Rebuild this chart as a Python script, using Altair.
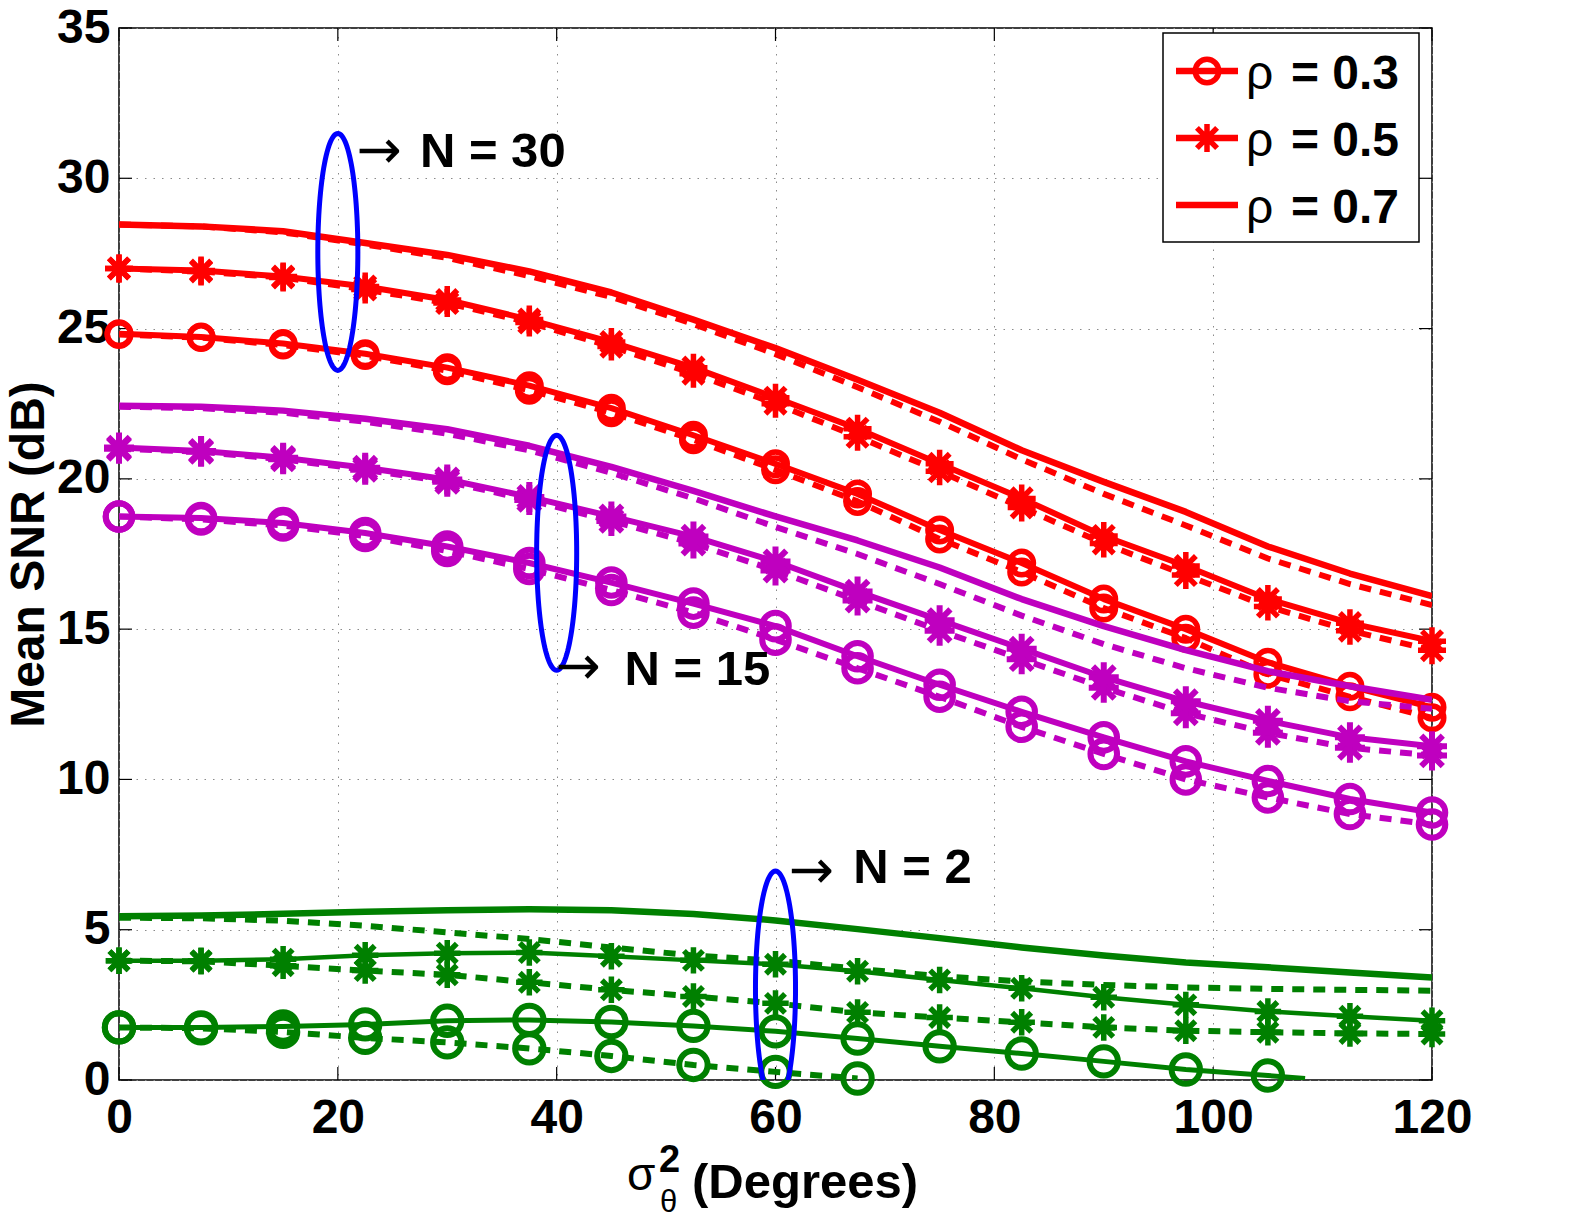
import altair as alt
import pandas as pd
import numpy as np

# ---------------- data ----------------
X = [0, 7.5, 15, 22.5, 30, 37.5, 45, 52.5, 60, 67.5, 75, 82.5, 90, 97.5, 105, 112.5, 120]

# N = 30 (red)
n30_r3 = [24.83, 24.72, 24.5, 24.16, 23.7, 23.1, 22.35, 21.45, 20.5, 19.5, 18.3, 17.2, 16.0, 15.0, 13.9, 13.1, 12.4]
n30_r3_d = [24.8, 24.7, 24.45, 24.1, 23.6, 22.95, 22.2, 21.3, 20.3, 19.25, 18.0, 16.9, 15.7, 14.7, 13.5, 12.75, 12.05]
n30_r5 = [27.0, 26.93, 26.73, 26.4, 25.95, 25.3, 24.55, 23.7, 22.7, 21.67, 20.5, 19.35, 18.1, 17.1, 16.0, 15.2, 14.6]
n30_r5_d = [27.0, 26.9, 26.7, 26.3, 25.85, 25.2, 24.4, 23.5, 22.5, 21.4, 20.25, 19.05, 17.85, 16.8, 15.75, 14.95, 14.3]
n30_r7 = [28.46, 28.4, 28.24, 27.85, 27.45, 26.9, 26.2, 25.3, 24.35, 23.3, 22.2, 20.95, 19.9, 18.9, 17.75, 16.85, 16.1]
n30_r7_d = [28.46, 28.4, 28.2, 27.8, 27.35, 26.75, 26.05, 25.15, 24.15, 23.05, 21.9, 20.65, 19.5, 18.45, 17.35, 16.5, 15.8]

# N = 15 (magenta)
n15_r3 = [18.75, 18.7, 18.53, 18.2, 17.75, 17.2, 16.55, 15.85, 15.1, 14.1, 13.15, 12.25, 11.4, 10.6, 9.95, 9.35, 8.9]
n15_r3_d = [18.75, 18.65, 18.45, 18.1, 17.6, 17.0, 16.3, 15.55, 14.65, 13.7, 12.75, 11.75, 10.85, 10.0, 9.4, 8.85, 8.5]
n15_r5 = [21.04, 20.93, 20.7, 20.37, 19.98, 19.4, 18.75, 18.08, 17.25, 16.25, 15.3, 14.35, 13.4, 12.6, 11.95, 11.4, 11.1]
n15_r5_d = [21.0, 20.9, 20.65, 20.3, 19.9, 19.3, 18.6, 17.85, 16.95, 15.95, 14.95, 14.0, 13.05, 12.2, 11.55, 11.05, 10.8]
n15_r7 = [22.43, 22.4, 22.27, 22.0, 21.65, 21.1, 20.4, 19.6, 18.75, 17.95, 17.05, 16.0, 15.1, 14.3, 13.6, 13.1, 12.65]
n15_r7_d = [22.4, 22.35, 22.2, 21.9, 21.5, 20.95, 20.2, 19.35, 18.4, 17.5, 16.5, 15.45, 14.5, 13.7, 13.05, 12.6, 12.35]

# N = 2 (green)
n2_r3_x = [0, 7.5, 15, 22.5, 30, 37.5, 45, 52.5, 60, 67.5, 75, 82.5, 90, 97.5, 105, 108.4]
n2_r3 = [1.75, 1.75, 1.78, 1.85, 1.97, 2.0, 1.93, 1.8, 1.62, 1.38, 1.12, 0.88, 0.62, 0.35, 0.15, 0.05]
n2_r3_mk = [1] * 15 + [0]
n2_r3_d_x = [0, 7.5, 15, 22.5, 30, 37.5, 45, 52.5, 60, 67.5]
n2_r3_d = [1.75, 1.72, 1.6, 1.4, 1.25, 1.05, 0.8, 0.5, 0.27, 0.05]
n2_r5 = [3.97, 3.97, 4.02, 4.15, 4.22, 4.24, 4.12, 3.98, 3.85, 3.62, 3.33, 3.05, 2.75, 2.5, 2.28, 2.12, 1.97]
n2_r5_d = [3.97, 3.95, 3.8, 3.64, 3.5, 3.25, 3.0, 2.78, 2.55, 2.25, 2.08, 1.92, 1.75, 1.64, 1.59, 1.55, 1.53]
n2_r7 = [5.45, 5.47, 5.53, 5.6, 5.65, 5.68, 5.65, 5.52, 5.31, 5.02, 4.72, 4.41, 4.14, 3.91, 3.75, 3.58, 3.41]
n2_r7_d = [5.4, 5.38, 5.3, 5.13, 4.91, 4.69, 4.41, 4.14, 3.97, 3.7, 3.45, 3.28, 3.16, 3.08, 3.03, 3.0, 2.97]

# Group annotations (ellipse centre x, centre y, semi-axis x, semi-axis y)
ell_names = ["N30", "N15", "N2"]
ell_cx = [20, 40, 60]
ell_cy = [27.55, 17.54, 3.05]
ell_ax = [1.83, 1.83, 1.83]
ell_ay = [3.94, 3.91, 3.9]

ann_arrow_x = [21.7, 39.9, 61.2]
ann_arrow_y = [30.88, 13.71, 6.93]
ann_text_x = [27.5, 46.2, 67.1]
ann_text_y = [30.38, 13.14, 6.56]
ann_text = ["N = 30", "N = 15", "N = 2"]

legend_labels = ["= 0.3", "= 0.5", "= 0.7"]
legend_markers = ["circle", "star", "none"]

x_ticks = [0, 20, 40, 60, 80, 100, 120]
y_ticks = [0, 5, 10, 15, 20, 25, 30, 35]

# ---------------- styling ----------------
W, H = 1313, 1052
RED, MAG, GRN, BLUE = "#ff0000", "#bf00bf", "#008000", "#0000ff"
STAR = "M-1,0L1,0M0,-1L0,1M-0.72,-0.72L0.72,0.72M-0.72,0.72L0.72,-0.72"
FONT = "Liberation Sans"
DASH = [12, 9]

xs = alt.Scale(domain=[0, 120], nice=False, zero=False)
ys = alt.Scale(domain=[0, 35], nice=False, zero=False)

x_axis = alt.Axis(values=x_ticks, grid=True, gridDash=[1.5, 7], gridColor="#8a8a8a", gridWidth=1,
                  ticks=False, domain=False, labelFont=FONT, labelFontSize=48, labelFontWeight="bold",
                  labelColor="black", labelPadding=14, labelFlush=False, labelOverlap=False, title=None)
y_axis = alt.Axis(values=y_ticks, grid=True, gridDash=[1.5, 7], gridColor="#8a8a8a", gridWidth=1,
                  ticks=False, domain=False, labelFont=FONT, labelFontSize=48, labelFontWeight="bold",
                  labelColor="black", labelPadding=9, labelFlush=False, labelOverlap=False,
                  title="Mean SNR (dB)", titleFont=FONT, titleFontSize=48, titleFontWeight="bold",
                  titleColor="black", titleAngle=270, titleAlign="center", titleBaseline="alphabetic",
                  titleX=-76, titleY=526)


def ex(field):
    return alt.X(field, scale=xs, axis=x_axis)


def ey(field):
    return alt.Y(field, scale=ys, axis=y_axis)


# (x list, y list, marker flags, colour, dashed, marker, line width, marker size, marker stroke)
series = [
    (X, n30_r7_d, None, RED, True, None, 6, 0, 0),
    (X, n30_r7, None, RED, False, None, 6.5, 0, 0),
    (X, n30_r5_d, None, RED, True, "star", 6, 784, 5.5),
    (X, n30_r5, None, RED, False, "star", 6, 784, 5.5),
    (X, n30_r3_d, None, RED, True, "circle", 6, 552, 5.5),
    (X, n30_r3, None, RED, False, "circle", 6, 552, 5.5),
    (X, n15_r7_d, None, MAG, True, None, 6, 0, 0),
    (X, n15_r7, None, MAG, False, None, 6.5, 0, 0),
    (X, n15_r5_d, None, MAG, True, "star", 6, 900, 6),
    (X, n15_r5, None, MAG, False, "star", 6, 900, 6),
    (X, n15_r3_d, None, MAG, True, "circle", 6, 707, 6),
    (X, n15_r3, None, MAG, False, "circle", 6, 707, 6),
    (X, n2_r7_d, None, GRN, True, None, 6, 0, 0),
    (X, n2_r7, None, GRN, False, None, 6.5, 0, 0),
    (X, n2_r5_d, None, GRN, True, "star", 6, 700, 5.5),
    (X, n2_r5, None, GRN, False, "star", 4.5, 700, 5.5),
    (n2_r3_d_x, n2_r3_d, None, GRN, True, "circle", 6, 804, 6),
    (n2_r3_x, n2_r3, n2_r3_mk, GRN, False, "circle", 5, 804, 6),
]

layers = []

# inside ticks
xt = pd.DataFrame({"x": x_ticks})
yt = pd.DataFrame({"y": y_ticks})
for y0, y1 in [(H, H - 13), (0, 13)]:
    layers.append(alt.Chart(xt).mark_rule(color="black", strokeWidth=1.2).encode(
        x=ex("x:Q"), y=alt.value(y0), y2=alt.value(y1)))
for x0, x1 in [(0, 13), (W, W - 13)]:
    layers.append(alt.Chart(yt).mark_rule(color="black", strokeWidth=1.2).encode(
        y=ey("y:Q"), x=alt.value(x0), x2=alt.value(x1)))

# series lines and markers
for xv, yv, mk, col, dashed, marker, lw, msize, mstroke in series:
    df = pd.DataFrame({"x": xv, "y": yv})
    kw = dict(color=col, strokeWidth=lw, strokeJoin="round", clip=True)
    if dashed:
        kw["strokeDash"] = DASH
    layers.append(alt.Chart(df).mark_line(**kw).encode(
        x=ex("x:Q"), y=ey("y:Q"), order=alt.Order("x:Q")))
    if marker:
        dm = df.copy()
        if mk is not None:
            dm = dm[[bool(m) for m in mk]]
        shape = "circle" if marker == "circle" else STAR
        layers.append(alt.Chart(dm).mark_point(shape=shape, filled=False, size=msize,
                                               strokeWidth=mstroke, color=col, opacity=1).encode(
            x=ex("x:Q"), y=ey("y:Q")))

# ellipses
rows = []
theta = np.linspace(0, 2 * np.pi, 121)
for name, cx, cy, ax_, ay_ in zip(ell_names, ell_cx, ell_cy, ell_ax, ell_ay):
    for i, t in enumerate(theta):
        rows.append({"e": name, "i": i, "x": cx + ax_ * np.cos(t), "y": cy + ay_ * np.sin(t)})
ell_df = pd.DataFrame(rows)
layers.append(alt.Chart(ell_df).mark_line(color=BLUE, strokeWidth=5, clip=True).encode(
    x=ex("x:Q"), y=ey("y:Q"), detail="e:N", order=alt.Order("i:Q")))

# annotation arrows and labels
arr_df = pd.DataFrame({"x": ann_arrow_x, "y": ann_arrow_y})
layers.append(alt.Chart(arr_df).mark_text(text="\u2192", font="DejaVu Sans", fontSize=54,
                                          fontWeight="normal", align="left",
                                          baseline="middle", color="black").encode(
    x=ex("x:Q"), y=ey("y:Q")))
txt_df = pd.DataFrame({"x": ann_text_x, "y": ann_text_y, "t": ann_text})
layers.append(alt.Chart(txt_df).mark_text(font=FONT, fontSize=49, fontWeight="bold", align="left",
                                          baseline="alphabetic", color="black").encode(
    x=ex("x:Q"), y=ey("y:Q"), text="t:N"))

# x-axis title: sigma^2_theta (Degrees)
one = pd.DataFrame({"a": [0]})
layers.append(alt.Chart(one).mark_text(text="\u03c3", font=FONT, fontSize=46, align="left",
                                       baseline="alphabetic", color="black").encode(
    x=alt.value(508), y=alt.value(1162)))
layers.append(alt.Chart(one).mark_text(text="2", font=FONT, fontSize=38, fontWeight="bold", align="left",
                                       baseline="alphabetic", color="black").encode(
    x=alt.value(540), y=alt.value(1144)))
layers.append(alt.Chart(one).mark_text(text="\u03b8", font=FONT, fontSize=31, align="left",
                                       baseline="alphabetic", color="black").encode(
    x=alt.value(541), y=alt.value(1184)))
layers.append(alt.Chart(one).mark_text(text="(Degrees)", font=FONT, fontSize=49, fontWeight="bold",
                                       align="left", baseline="alphabetic", color="black").encode(
    x=alt.value(573), y=alt.value(1170)))

# legend (manual)
layers.append(alt.Chart(one).mark_rect(fill="white", stroke="black", strokeWidth=1.5).encode(
    x=alt.value(1044), x2=alt.value(1300), y=alt.value(5), y2=alt.value(214)))
leg_df = pd.DataFrame({"ly": [43, 110, 177], "ty": [61, 128, 195], "lab": legend_labels,
                       "mk": legend_markers})
layers.append(alt.Chart(leg_df).mark_rule(color=RED, strokeWidth=6.5).encode(
    y=alt.Y("ly:Q", scale=None), x=alt.value(1057), x2=alt.value(1119)))
layers.append(alt.Chart(leg_df[leg_df.mk == "circle"]).mark_point(
    shape="circle", filled=False, size=552, strokeWidth=5.5, color=RED, opacity=1).encode(
    y=alt.Y("ly:Q", scale=None), x=alt.value(1088)))
layers.append(alt.Chart(leg_df[leg_df.mk == "star"]).mark_point(
    shape=STAR, filled=False, size=784, strokeWidth=5.5, color=RED, opacity=1).encode(
    y=alt.Y("ly:Q", scale=None), x=alt.value(1088)))
layers.append(alt.Chart(leg_df).mark_text(text="\u03c1", font=FONT, fontSize=48, align="left",
                                          baseline="alphabetic", color="black").encode(
    y=alt.Y("ty:Q", scale=None), x=alt.value(1127)))
layers.append(alt.Chart(leg_df).mark_text(font=FONT, fontSize=48, fontWeight="bold", align="right",
                                          baseline="alphabetic", color="black").encode(
    y=alt.Y("ty:Q", scale=None), x=alt.value(1280), text="lab:N"))

chart = alt.layer(*layers).properties(
    width=W, height=H,
    padding={"left": 119, "top": 28, "right": 148, "bottom": 139},
    autosize=alt.AutoSizeParams(type="none"),
    background="white",
).configure_view(stroke="black", strokeWidth=1.5)

chart.save("out.html", embed_options={"renderer": "svg", "actions": False})
